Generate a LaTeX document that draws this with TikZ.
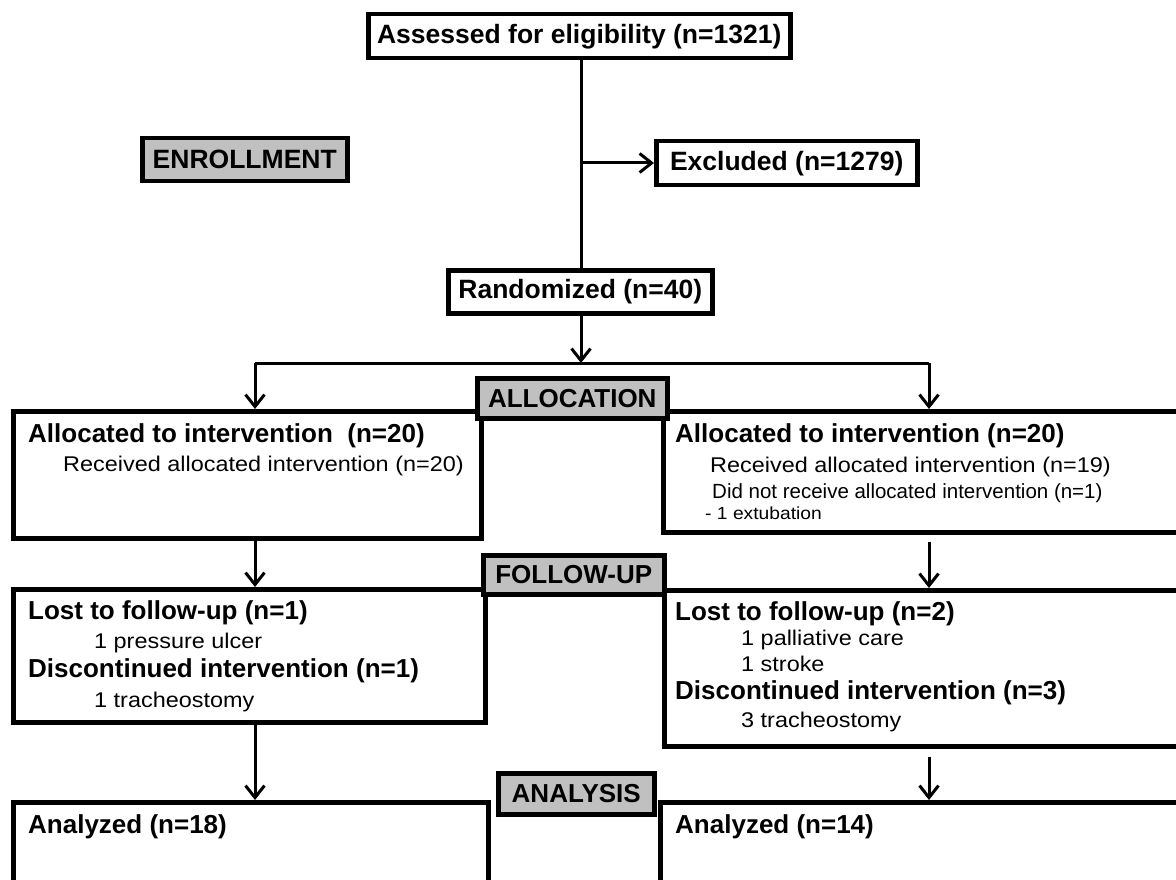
\documentclass[tikz,border=0pt]{standalone}
\usepackage{fontspec}
\setmainfont{Liberation Sans}
\newfontfamily\widefont[FakeStretch=1.1]{Liberation Sans}
\usetikzlibrary{positioning,arrows.meta}
\definecolor{stagegray}{RGB}{192,192,192}

\tikzset{
  box/.style={draw, line width=4.5pt, fill=white, inner sep=0pt, anchor=north west},
  topbox/.style={box, font=\fontsize{26.5}{30}\selectfont\bfseries},
  stage/.style={box, fill=stagegray, font=\fontsize{26}{30}\selectfont\bfseries},
  head/.style={anchor=base west, inner sep=0pt, font=\fontsize{26}{30}\selectfont\bfseries},
  sub/.style={anchor=base west, inner sep=0pt, font=\fontsize{20.5}{25}\selectfont},
  subwide/.style={anchor=base west, inner sep=0pt, font=\fontsize{21.3}{25}\selectfont\widefont},
  note/.style={anchor=base west, inner sep=0pt, font=\fontsize{17.5}{20}\selectfont\widefont},
  conn/.style={line width=3pt},
  arr/.style={line width=3pt, -{Straight Barb[length=12pt,width=19pt]}},
}

\begin{document}
\begin{tikzpicture}[x=1pt,y=-1pt]
\useasboundingbox (0,0) rectangle (1176,880);
\clip (0,0) rectangle (1176,880);

\node[topbox, minimum width=422, minimum height=44] (assessed) at (366,12) {Assessed for eligibility (n=1321)};
\node[stage, minimum width=205, minimum height=43, font=\fontsize{26.5}{30}\selectfont\bfseries] (enroll) at (140,136) {ENROLLMENT};
\node[topbox, minimum width=261, minimum height=44] (excluded) at (654,139) {Excluded (n=1279)};
\node[topbox, minimum width=264, minimum height=43] (random) at (446,268) {Randomized (n=40)};

\node[box, minimum width=468, minimum height=127] (leftA) at (11,409) {};
\node[box, minimum width=545, minimum height=121] (rightA) at (661,409) {};
\node[box, minimum width=472, minimum height=133] (leftF) at (11,587) {};
\node[box, minimum width=544, minimum height=156] (rightF) at (662,588) {};
\node[box, minimum width=475, minimum height=116] (leftZ) at (11,800) {};
\node[box, minimum width=548, minimum height=116] (rightZ) at (658,800) {};

\node[stage, minimum width=190, minimum height=40] (alloc) at (475,376) {ALLOCATION};
\node[stage, minimum width=181, minimum height=39] (follow) at (481,553) {FOLLOW-UP};
\node[stage, minimum width=156, minimum height=41] (analysis) at (496,771) {ANALYSIS};

\node[head] (leftAhead) at (28,442) {Allocated to intervention\ \ (n=20)};
\node[subwide] (leftArecv) at (63,471) {Received allocated intervention (n=20)};

\node[head] (rightAhead) at (675,442) {Allocated to intervention (n=20)};
\node[subwide] (rightArecv) at (710,472) {Received allocated intervention (n=19)};
\node[sub] (rightAnot) at (712,498) {Did not receive allocated intervention (n=1)};
\node[note] (rightAext) at (705,519) {- 1 extubation};

\node[head] (leftFlost) at (28,619) {Lost to follow-up (n=1)};
\node[subwide] (leftFulcer) at (94,648) {1 pressure ulcer};
\node[head] (leftFdisc) at (28,677) {Discontinued intervention (n=1)};
\node[subwide] (leftFtrach) at (94,707) {1 tracheostomy};

\node[head] (rightFlost) at (675,620) {Lost to follow-up (n=2)};
\node[subwide] (rightFcare) at (741,645) {1 palliative care};
\node[subwide] (rightFstroke) at (741,671) {1 stroke};
\node[head] (rightFdisc) at (675,699) {Discontinued intervention (n=3)};
\node[subwide] (rightFtrach) at (741,727) {3 tracheostomy};

\node[head] (leftZhead) at (28,833) {Analyzed (n=18)};
\node[head] (rightZhead) at (675,833) {Analyzed (n=14)};

\coordinate (trunk) at (581,363);
\coordinate (lcol) at (255,363);
\coordinate (rcol) at (929,363);
\coordinate (fork) at (581,163);
\coordinate (rAout) at ([yshift=-7pt]rightA.south);
\coordinate (rFout) at ([yshift=-8pt]rightF.south);

\draw[conn] (trunk |- assessed.south) -- (trunk |- random.north);
\draw[arr] (fork) -- (excluded.west |- fork);
\draw[arr] (trunk |- random.south) -- (trunk);
\draw[conn] (lcol) -- (rcol);
\draw[arr] (lcol) -- (lcol |- leftA.north);
\draw[arr] (rcol) -- (rcol |- rightA.north);
\draw[arr] (lcol |- leftA.south) -- (lcol |- leftF.north);
\draw[arr] (rcol |- rAout) -- (rcol |- rightF.north);
\draw[arr] (lcol |- leftF.south) -- (lcol |- leftZ.north);
\draw[arr] (rcol |- rFout) -- (rcol |- rightZ.north);
\end{tikzpicture}
\end{document}
